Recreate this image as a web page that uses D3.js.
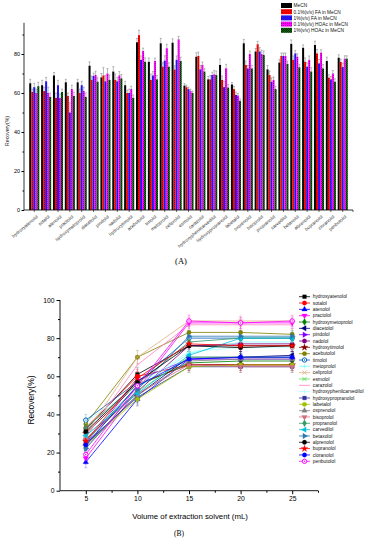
<!DOCTYPE html>
<html><head><meta charset="utf-8">
<script src="https://cdn.jsdelivr.net/npm/d3@7/dist/d3.min.js"></script>
<style>body{margin:0;background:#fff}svg{display:block;font-family:"Liberation Sans",Arial,sans-serif}</style>
</head><body><svg id="c" width="368" height="550"></svg>
<script>
const categories = ["hydroxyatenolol","sotalol","atenolol","practolol","hydroxymetoprolol","diacetolol","pindolol","nadolol","hydroxytimolol","acebutolol","timolol","metoprolol","celiprolol","esmolol","carazolol","hydroxyphenilcarvedilol","hydroxypropranolol","labetalol","oxprenolol","bisoprolol","propranolol","carvedilol","betaxolol","alprenolol","bupranolol","cloranolol","penbutolol"];
const seriesNames = ["MeCN","0.1%(v/v) FA in MeCN","1%(v/v) FA in MeCN","0.1%(v/v) HOAc in MeCN","1%(v/v) HOAc in MeCN"];
const meCN   = [65,64,69,65.5,65.5,74,68,71,64,86,76,85.5,85.8,63.8,78.6,67,74.4,64.4,85.5,81.3,72.1,75.6,85.2,83.2,84.6,76.4,78.1];
const fa01   = [60.5,61,57.5,58.5,60,66.7,69,66.7,60,89.7,66.7,73.5,72,63,79,67,66.7,62,74.4,85,69.2,79,77,76,80.3,67.9,75.9];
const fa1    = [63,66,64,50,64,68.7,66,66,60,77,69,76.6,77,62,72.1,69.2,63,59,72.6,81.3,65.8,79,80.3,73.5,75.2,67,73.3];
const hoac01 = [60,60,57.5,62,61,69.2,70,69,62,81.5,76.4,83,87.5,61,74.4,69.6,72.7,58.7,80,80,66.7,79,78.6,77,80.7,70,77.6];
const hoac1  = [63.5,58,60.5,58.5,58,65.8,66.7,67.5,57.5,76,67,73.5,76.4,60,71,69.2,62.8,56,72.6,79.5,62,74.9,73.2,71,72.6,65.8,77.6];
const errMeCN   = [2,2.5,1.5,1.5,1.5,2,2,2.5,2,2,2,2.5,2,1,2,1.5,3,1,2,1.5,2,1.5,2,1.5,2,2,1.5];
const errFa01   = [1.5,2,2.5,1.5,2,2,4,3,1.5,2.5,3,2,2,1,2,2,2,1.5,2,1.5,2,1.5,2,2,2,1.5,1.5];
const errFa1    = [2,2,2.5,5,2,1.5,3,2,2,2,2,2.5,2,1,2,1.5,3,1.5,1.5,2,2,1.5,1.5,2,2,1.5,2];
const errHoac01 = [2,3,2,2,2,2,2.5,2,1.5,1.5,1.5,2,1.5,1,1.5,2,2,1,1.5,2,1.5,1.5,1.5,2,1.5,1.5,1.5];
const errHoac1  = [2,2,1.5,2,2,2,2.5,2,1.5,2,2,2,2,1,1.5,2,1.5,1,1.5,2,1.5,1.5,1.5,2,2,1.5,1.5];

const volumes = [5,10,15,20,25];
const rec5  = [32,33,15,17,26,24,25,27,30,35,37,28,30,26,28,36,25,24,23,27,33,29,22,31,26,24,19];
const rec10 = [61,60,48,53,55,50,58,52,56,70,57,54,70,52,66,55,49,48,50,51,56,51,53,57,59,55,55];
const rec15 = [76,66,69,88,67,70,69,76,66,83,80,72,89,70,87,73,65,65,68,66,78,71,81,76,77,69,89];
const rec20 = [76,66,70,88,68,70,69,77,66,83,80,78,89,70,87,75,65,66,69,65,80,80,81,75,76,70,88];
const rec25 = [76,66,70,88,68,71,69,77,66,82,80,78,89,70,87,75,65,66,69,65,80,80,81,76,76,70,89];
const errVol = [3,3.5,3,3,3];

const svg = d3.select("#c");
svg.append("rect").attr("width",368).attr("height",550).attr("fill","#fff");

// ---------- patterns ----------
const defs = svg.append("defs");
function pat(id, bg, fg, kind){
  const p = defs.append("pattern").attr("id",id).attr("patternUnits","userSpaceOnUse").attr("width",2).attr("height",2);
  p.append("rect").attr("width",2).attr("height",2).attr("fill",bg);
  if(kind==="diag") p.append("rect").attr("x",0).attr("y",0).attr("width",1).attr("height",1).attr("fill",fg);
  if(kind==="dot") p.append("rect").attr("x",1).attr("y",1).attr("width",1).attr("height",1).attr("fill",fg);
  if(kind==="check"){p.append("rect").attr("x",0).attr("y",0).attr("width",1).attr("height",1).attr("fill",fg);p.append("rect").attr("x",1).attr("y",1).attr("width",1).attr("height",1).attr("fill",fg);}
}
pat("pR","#ff0000","#b00000","diag");
pat("pB","#1a1aff","#4a00c0","dot");
pat("pM","#ff00ff","#a000a0","dot");
pat("pG","#0a6a0a","#002a00","check");
const barFills = ["#000000","url(#pR)","url(#pB)","url(#pM)","url(#pG)"];
const legFills = ["#000000","url(#pR)","url(#pB)","url(#pM)","url(#pG)"];

// ---------- chart A ----------
const seriesVals = [meCN, fa01, fa1, hoac01, hoac1];
const seriesErr = [errMeCN, errFa01, errFa1, errHoac01, errHoac1];
const xA = d3.scaleBand().domain(categories).range([24,353]).paddingOuter(0.44).paddingInner(0.15);
const xSub = d3.scaleBand().domain(d3.range(5)).range([0,xA.bandwidth()]);
const yA = d3.scaleLinear().domain([0,96]).range([210,22.8]);
const gA = svg.append("g");
seriesVals.forEach((vals,si)=>{
  gA.append("g").selectAll("rect").data(vals).join("rect")
    .attr("x",(d,i)=>xA(categories[i])+xSub(si))
    .attr("width",xSub.bandwidth())
    .attr("y",d=>yA(d)).attr("height",d=>yA(0)-yA(d))
    .attr("fill",barFills[si]);
  const eg = gA.append("g").attr("stroke","#777").attr("stroke-width",0.5);
  vals.forEach((d,i)=>{
    const cx = xA(categories[i])+xSub(si)+xSub.bandwidth()/2;
    const e = seriesErr[si][i];
    eg.append("line").attr("x1",cx).attr("x2",cx).attr("y1",yA(d)).attr("y2",yA(d+e));
    eg.append("line").attr("x1",cx-1).attr("x2",cx+1).attr("y1",yA(d+e)).attr("y2",yA(d+e));
  });
});
// y axis A
const yAxA = gA.append("g").attr("transform","translate(24,0)")
  .call(d3.axisLeft(yA).tickValues([0,20,40,60,80]).tickSize(2.5).tickPadding(1.5));
yAxA.select(".domain").remove();
yAxA.selectAll("text").attr("font-size",5.5).attr("fill","#000");
gA.append("g").attr("transform","translate(24,0)")
  .call(d3.axisLeft(yA).tickValues([10,30,50,70,90]).tickSize(1.5).tickFormat(""))
  .select(".domain").remove();
gA.append("line").attr("x1",24).attr("x2",24).attr("y1",yA(96)).attr("y2",yA(0)).attr("stroke","#000").attr("stroke-width",0.8);
gA.append("line").attr("x1",24).attr("x2",353).attr("y1",yA(0)).attr("y2",yA(0)).attr("stroke","#000").attr("stroke-width",0.8);
gA.append("line").attr("x1",353).attr("x2",353).attr("y1",yA(0)).attr("y2",yA(0)+2).attr("stroke","#000").attr("stroke-width",0.6);
const xAxA = gA.append("g").attr("transform",`translate(0,${yA(0)})`)
  .call(d3.axisBottom(xA).tickSize(2).tickPadding(1));
xAxA.select(".domain").remove();
xAxA.selectAll("line").attr("stroke-width",0.6);
xAxA.selectAll("text").attr("font-size",4.6).attr("fill","#333")
  .attr("text-anchor","end").attr("dy","0").attr("transform","translate(2,5) rotate(-40)");
gA.append("text").attr("transform","translate(9,131) rotate(-90)").attr("text-anchor","middle")
  .attr("font-size",5.2).attr("fill","#222").text("Recovery(%)");
// legend A
const legA = gA.append("g");
seriesNames.forEach((n,i)=>{
  const yy = 3 + i*6.2;
  legA.append("rect").attr("x",281).attr("y",yy).attr("width",11).attr("height",5).attr("fill",legFills[i]);
  legA.append("text").attr("x",293.5).attr("y",yy+4.3).attr("font-size",4.8).attr("fill","#111").text(n);
});
svg.append("text").attr("x",181).attr("y",264).attr("text-anchor","middle")
  .attr("font-family","'Liberation Serif',serif").attr("font-size",8.5).text("(A)");

// ---------- chart B ----------
const recs = [rec5, rec10, rec15, rec20, rec25];
const colors = ["#000000","#ff0000","#0000ff","#ff00ff","#008000","#000080","#8000ff","#800080","#800000","#808000","#0060c0","#80ffff","#e0b080","#60e060","#ff80c0","#b0ffff","#3030a0","#a0c000","#808080","#d07080","#339966","#00c0e0","#2c78b0","#000000","#ff0000","#0000ff","#ff00ff"];
const markers = ["square","circle","tri","trid","diamond","tril","trir","circle","star","circle","circledot","plus","x","aster","none","vbar","square","circle","tri","trid","diamond","tril","trir","circle","star","circle","circledot"];
const xB = d3.scaleLinear().domain([2.5,27.5]).range([60,318]);
const yB = d3.scaleLinear().domain([0,100]).range([490.7,300]);
const gB = svg.append("g");

function drawMarker(g, type, x, y, col){
  const s = 2.2;
  const sym = (t,rot,sz)=>g.append("path").attr("d",d3.symbol(t,sz||15)()).attr("transform",`translate(${x},${y}) rotate(${rot||0})`).attr("fill",col).attr("stroke",col).attr("stroke-width",0.3);
  switch(type){
    case "square": sym(d3.symbolSquare,0,14); break;
    case "circle": sym(d3.symbolCircle,0,15); break;
    case "tri": sym(d3.symbolTriangle,0,13); break;
    case "trid": sym(d3.symbolTriangle,180,13); break;
    case "tril": sym(d3.symbolTriangle,-90,13); break;
    case "trir": sym(d3.symbolTriangle,90,13); break;
    case "diamond": sym(d3.symbolDiamond,0,14); break;
    case "star": sym(d3.symbolStar,0,14); break;
    case "circledot":
      g.append("circle").attr("cx",x).attr("cy",y).attr("r",s).attr("fill","#fff").attr("stroke",col).attr("stroke-width",1);
      g.append("circle").attr("cx",x).attr("cy",y).attr("r",0.7).attr("fill",col); break;
    case "plus":
      g.append("path").attr("d",`M${x-s},${y}H${x+s}M${x},${y-s}V${y+s}`).attr("stroke",col).attr("stroke-width",0.8); break;
    case "x":
      g.append("path").attr("d",`M${x-s},${y-s}L${x+s},${y+s}M${x-s},${y+s}L${x+s},${y-s}`).attr("stroke",col).attr("stroke-width",0.8); break;
    case "aster":
      g.append("path").attr("d",`M${x-s},${y-s}L${x+s},${y+s}M${x-s},${y+s}L${x+s},${y-s}M${x-s},${y}H${x+s}`).attr("stroke",col).attr("stroke-width",0.7); break;
    case "vbar":
      g.append("path").attr("d",`M${x},${y-s}V${y+s}`).attr("stroke",col).attr("stroke-width",0.8); break;
    default: break;
  }
}
const line = d3.line().x(d=>xB(d[0])).y(d=>yB(d[1]));
categories.forEach((c,ci)=>{
  const pts = volumes.map((v,vi)=>[v, recs[vi][ci]]);
  const g = gB.append("g");
  pts.forEach((p,vi)=>{
    const e = errVol[vi];
    g.append("path").attr("d",`M${xB(p[0])},${yB(p[1]-e)}V${yB(p[1]+e)}M${xB(p[0])-1.5},${yB(p[1]-e)}h3M${xB(p[0])-1.5},${yB(p[1]+e)}h3`)
      .attr("stroke",colors[ci]).attr("stroke-width",0.4).attr("opacity",0.6).attr("fill","none");
  });
  g.append("path").attr("d",line(pts)).attr("fill","none").attr("stroke",colors[ci]).attr("stroke-width",0.8);
});
categories.forEach((c,ci)=>{
  const g = gB.append("g");
  volumes.forEach((v,vi)=>drawMarker(g, markers[ci], xB(v), yB(recs[vi][ci]), colors[ci]));
});
// axes B
const yAxB = gB.append("g").attr("transform","translate(60,0)")
  .call(d3.axisLeft(yB).tickValues([0,20,40,60,80,100]).tickSize(3.5).tickPadding(2));
yAxB.select(".domain").remove();
yAxB.selectAll("text").attr("font-size",6.8).attr("fill","#000");
gB.append("g").attr("transform","translate(60,0)")
  .call(d3.axisLeft(yB).tickValues([10,30,50,70,90]).tickSize(2).tickFormat("")).select(".domain").remove();
const xAxB = gB.append("g").attr("transform",`translate(0,${yB(0)})`)
  .call(d3.axisBottom(xB).tickValues([5,10,15,20,25]).tickSize(3.5).tickPadding(2));
xAxB.select(".domain").remove();
xAxB.selectAll("text").attr("font-size",6.8).attr("fill","#000");
gB.append("g").attr("transform",`translate(0,${yB(0)})`)
  .call(d3.axisBottom(xB).tickValues([7.5,12.5,17.5,22.5,27.5]).tickSize(2).tickFormat("")).select(".domain").remove();
gB.append("line").attr("x1",60).attr("x2",60).attr("y1",yB(100)).attr("y2",yB(0)).attr("stroke","#000").attr("stroke-width",0.9);
gB.append("line").attr("x1",60).attr("x2",318).attr("y1",yB(0)).attr("y2",yB(0)).attr("stroke","#000").attr("stroke-width",0.9);
gB.append("text").attr("x",190).attr("y",518.5).attr("text-anchor","middle").attr("font-size",7.8).text("Volume of extraction solvent (mL)");
gB.append("text").attr("transform","translate(34,400) rotate(-90)").attr("text-anchor","middle").attr("font-size",8.5).text("Recovery(%)");
svg.append("text").attr("x",179).attr("y",536).attr("text-anchor","middle")
  .attr("font-family","'Liberation Serif',serif").attr("font-size",7.5).text("(B)");
// legend B
const legB = gB.append("g");
categories.forEach((c,ci)=>{
  const yy = 296.7 + ci*6.33;
  legB.append("line").attr("x1",299).attr("x2",310).attr("y1",yy).attr("y2",yy).attr("stroke",colors[ci]).attr("stroke-width",0.8);
  drawMarker(legB, markers[ci], 304.5, yy, colors[ci]);
  legB.append("text").attr("x",312.7).attr("y",yy+1.7).attr("font-size",4.9).attr("fill","#111").text(c);
});
</script></body></html>
